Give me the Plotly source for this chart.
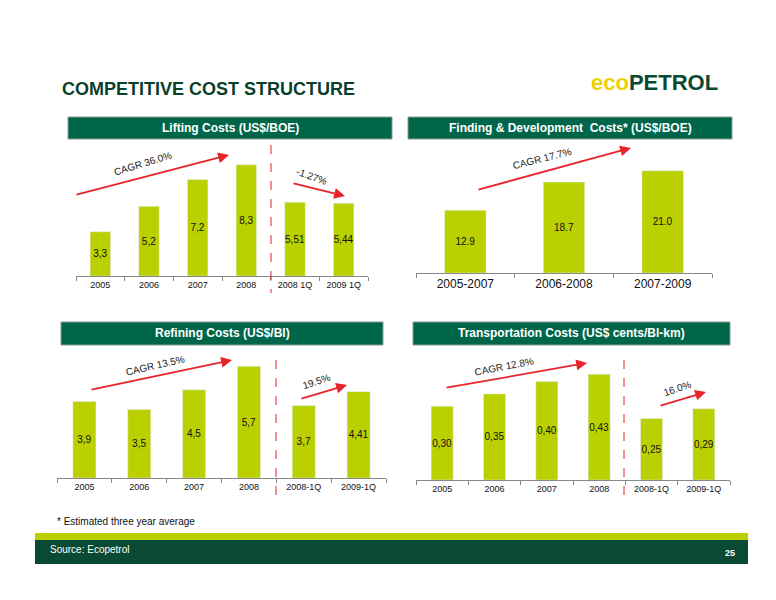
import plotly.graph_objects as go

W, H = 768, 592
OFF = 8
def px(x): return (x - OFF) / W
def py(y): return 1 - (y - OFF) / H

lift_cat = ["2005", "2006", "2007", "2008", "2008 1Q", "2009 1Q"]
lift_val = [3.3, 5.2, 7.2, 8.3, 5.51, 5.44]
lift_lbl = ["3,3", "5,2", "7,2", "8,3", "5,51", "5,44"]

fd_cat = ["2005-2007", "2006-2008", "2007-2009"]
fd_val = [12.9, 18.7, 21.0]
fd_lbl = ["12.9", "18.7", "21.0"]

ref_cat = ["2005", "2006", "2007", "2008", "2008-1Q", "2009-1Q"]
ref_val = [3.9, 3.5, 4.5, 5.7, 3.7, 4.41]
ref_lbl = ["3,9", "3,5", "4,5", "5,7", "3,7", "4,41"]

tr_cat = ["2005", "2006", "2007", "2008", "2008-1Q", "2009-1Q"]
tr_val = [0.30, 0.35, 0.40, 0.43, 0.25, 0.29]
tr_lbl = ["0,30", "0,35", "0,40", "0,43", "0,25", "0,29"]

BAR = "#bad000"
DG = "#00664a"
RED = "#e8232a"
NARROW = "Liberation Sans Narrow, Liberation Sans"

fig = go.Figure()
panels = [
    (lift_cat, lift_val, lift_lbl, (76, 368), (145, 276), 9.78, 9, 10),
    (fd_cat, fd_val, fd_lbl, (416, 712), (145, 273), 26.3, 12, 10),
    (ref_cat, ref_val, ref_lbl, (57, 386), (355, 478), 6.28, 9, 10),
    (tr_cat, tr_val, tr_lbl, (416, 730), (355, 480), 0.508, 9, 10),
]
for i, (c, v, l, xr, yr, top, tfs, lfs) in enumerate(panels, start=1):
    xa = "x" if i == 1 else f"x{i}"
    ya = "y" if i == 1 else f"y{i}"
    fig.add_trace(go.Bar(x=c, y=v, text=l, textposition="inside", insidetextanchor="middle",
                         textangle=0, constraintext="none",
                         textfont=dict(size=lfs, color="#111", family=NARROW),
                         marker=dict(color=BAR), xaxis=xa, yaxis=ya, showlegend=False,
                         hoverinfo="skip"))
    k = "" if i == 1 else str(i)
    fig.layout["xaxis" + k] = dict(domain=[px(xr[0]), px(xr[1])], anchor=ya, type="category",
                                   showline=True, linecolor="#888", ticks="outside", tickson="boundaries",
                                   ticklen=4, tickcolor="#888", showgrid=False,
                                   tickfont=dict(size=tfs, color="#111", family=NARROW))
    fig.layout["yaxis" + k] = dict(domain=[py(yr[1]), py(yr[0])], anchor=xa, range=[0, top],
                                   visible=False, showgrid=False)
fig.update_layout(bargap=0.58)

def A(x, y, t, **kw):
    d = dict(x=px(x), y=py(y), xref="paper", yref="paper", text=t, showarrow=False,
             xanchor="center", yanchor="middle")
    d.update(kw)
    return d

shapes = []
ann = []
for (x0, x1, y0, y1, t) in [(68, 392, 117, 139, "Lifting Costs (US$/BOE)"),
                            (408, 732, 117, 139, "Finding & Development  Costs* (US$/BOE)"),
                            (61, 383, 322, 345, "Refining Costs (US$/Bl)"),
                            (413, 730, 322, 345, "Transportation Costs (US$ cents/Bl-km)")]:
    shapes.append(dict(type="rect", xref="paper", yref="paper", x0=px(x0), x1=px(x1), y0=py(y1), y1=py(y0),
                       fillcolor=DG, line=dict(color="#8a9a90", width=1)))
    ann.append(A((x0 + x1) / 2, (y0 + y1) / 2, "<b>%s</b>" % t,
                 font=dict(color="white", size=12, family="Liberation Sans")))
for (x, y0, y1) in [(271, 145, 293), (276, 360, 498), (624, 360, 498)]:
    shapes.append(dict(type="line", xref="paper", yref="paper", x0=px(x), x1=px(x), y0=py(y0), y1=py(y1),
                       line=dict(color="#e0202a", width=1, dash="dash")))
shapes.append(dict(type="rect", xref="paper", yref="paper", x0=px(35), x1=px(748), y0=py(540), y1=py(533),
                   fillcolor="#bad000", line=dict(width=0)))
shapes.append(dict(type="rect", xref="paper", yref="paper", x0=px(35), x1=px(748), y0=py(564), y1=py(540),
                   fillcolor="#0a4a32", line=dict(width=0)))
for (x0, y0, x1, y1) in [(75, 195, 229, 155), (292, 183, 345, 196), (477, 190, 631, 148),
                         (90, 390, 232, 360), (300, 399, 347, 385), (445, 388, 587, 363), (659, 406, 706, 392)]:
    ann.append(dict(x=px(x1), y=py(y1), ax=x0 - x1, ay=y0 - y1, xref="paper", yref="paper",
                    axref="pixel", ayref="pixel", text="", showarrow=True, arrowhead=2, arrowsize=1.2,
                    arrowwidth=1.8, arrowcolor=RED, standoff=0))
for (x, y, t, a) in [(143, 164, "CAGR 36.0%", -17), (312, 176, "-1.27%", 20), (542, 158, "CAGR 17.7%", -14),
                     (155, 365, "CAGR 13.5%", -13), (316, 381, "19.5%", -18), (504, 366, "CAGR 12.8%", -11),
                     (677, 388, "16.0%", -18)]:
    ann.append(A(x, y, t, textangle=a, font=dict(size=10, color="#222", family="Liberation Sans")))
ann += [
    A(60, 89, "<b>COMPETITIVE COST STRUCTURE</b>", xanchor="left",
      font=dict(size=18, color="#0a3f2c", family="Liberation Sans")),
    A(720, 82, "<span style='color:#f0d000'><b>eco</b></span><b>PETROL</b>", xanchor="right",
      font=dict(size=22, color="#0a4a32", family="Liberation Sans")),
    A(55, 521, "* Estimated three year average", xanchor="left",
      font=dict(size=10, color="#111", family="Liberation Sans")),
    A(48, 549, "Source: Ecopetrol", xanchor="left",
      font=dict(size=10, color="white", family="Liberation Sans")),
    A(730, 553, "<b>25</b>", font=dict(size=9, color="white", family="Liberation Sans")),
]
fig.update_layout(width=W, height=H, margin=dict(l=0, r=0, t=0, b=0), plot_bgcolor="white",
                  paper_bgcolor="white", shapes=shapes, annotations=ann)
fig.write_html("out.html")
